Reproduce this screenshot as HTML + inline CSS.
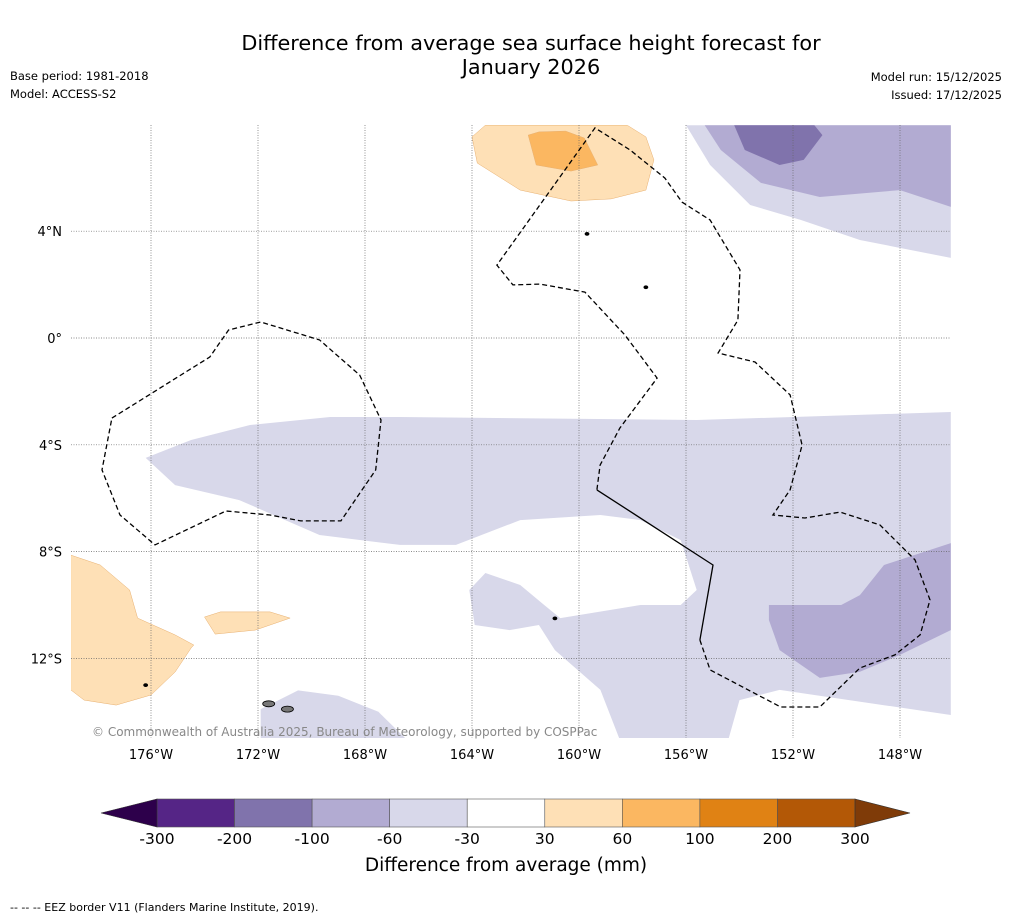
<!DOCTYPE html>
<html><head><meta charset="utf-8">
<style>
body{margin:0;background:#fff;font-family:"DejaVu Sans","Liberation Sans",sans-serif;}
svg{display:block}
</style></head>
<body>
<svg id="chart" width="1011" height="919" viewBox="0 0 1011 919">
<text x="531" y="50" text-anchor="middle" font-size="20.8">Difference from average sea surface height forecast for</text>
<text x="531" y="74" text-anchor="middle" font-size="20.8">January 2026</text>
<text x="10" y="80" font-size="11.5">Base period: 1981-2018</text>
<text x="10" y="98" font-size="11.5">Model: ACCESS-S2</text>
<text x="1002" y="81" font-size="11.5" text-anchor="end">Model run: 15/12/2025</text>
<text x="1002" y="99" font-size="11.5" text-anchor="end">Issued: 17/12/2025</text>
<g id="map"></g>
<g id="cbar"></g>
<text x="10" y="911" font-size="11">--  --  -- EEZ border V11 (Flanders Marine Institute, 2019).</text>
</svg>
<script>
const lonTicks=[-176,-172,-168,-164,-160,-156,-152,-148];
const latTicks=[4,0,-4,-8,-12];
const latLabels=["4°N","0°","4°S","8°S","12°S"];
const levels=[-300,-200,-100,-60,-30,30,60,100,200,300];
const levelColors=["#552586","#8073ac","#b2abd2","#d8d8ea","#ffffff","#fee0b6","#fbb761","#e08214","#b35806"];
const underColor="#2d004b", overColor="#7f3b08";
const contours=[
 [3,[[-176.2,-4.49],[-175.1,-5.51],[-172.7,-6.07],[-169.7,-7.38],[-166.7,-7.75],[-164.6,-7.75],[-162.2,-6.82],[-159.2,-6.63],[-157.7,-6.82],[-156.2,-7.57],[-155.6,-9.44],[-156.2,-10.0],[-157.7,-10.0],[-160.7,-10.49],[-161.3,-10.0],[-162.2,-9.25],[-163.5,-8.80],[-164.1,-9.44],[-163.9,-10.75],[-162.6,-10.94],[-161.5,-10.75],[-160.9,-11.69],[-159.2,-13.18],[-158.5,-14.98],[-154.4,-14.98],[-154.0,-13.56],[-152.5,-13.18],[-149.9,-13.56],[-146.1,-14.12],[-146.1,-2.77],[-155.6,-3.07],[-166.7,-2.96],[-169.3,-2.96],[-172.3,-3.26],[-174.5,-3.82]]],
 [3,[[-171.9,-13.9],[-170.5,-13.2],[-169.0,-13.4],[-167.5,-14.0],[-166.5,-14.98],[-171.9,-14.98]]],
 [2,[[-152.9,-10.0],[-151.7,-10.0],[-150.2,-10.0],[-149.5,-9.63],[-148.6,-8.5],[-146.1,-7.68],[-146.1,-10.94],[-148.0,-11.87],[-149.5,-12.5],[-151.0,-12.73],[-152.5,-11.69],[-152.9,-10.56]]],
 [3,[[-156.0,7.97],[-155.1,6.48],[-153.6,4.98],[-151.7,4.42],[-149.5,3.67],[-146.1,3.0],[-146.1,7.97]]],
 [2,[[-155.3,7.97],[-154.7,7.04],[-153.2,5.81],[-151.0,5.28],[-148.0,5.54],[-146.1,4.91],[-146.1,7.97]]],
 [1,[[-154.2,7.97],[-153.8,7.04],[-152.5,6.48],[-151.6,6.67],[-150.9,7.6],[-151.2,7.97]]],
 [5,[[-163.5,7.97],[-164.0,7.53],[-163.8,6.55],[-162.2,5.54],[-160.3,5.13],[-158.8,5.21],[-157.5,5.54],[-157.2,6.67],[-157.5,7.53],[-158.2,7.97]]],
 [6,[[-161.9,7.6],[-161.6,6.48],[-160.3,6.25],[-159.3,6.48],[-159.8,7.49],[-160.5,7.75],[-161.5,7.72]]],
 [5,[[-179.0,-8.13],[-177.9,-8.5],[-176.8,-9.44],[-176.5,-10.49],[-175.1,-11.12],[-174.4,-11.5],[-174.5,-11.61],[-175.1,-12.51],[-176.0,-13.37],[-177.3,-13.75],[-178.5,-13.56],[-179.0,-13.18]]],
 [5,[[-174.0,-10.45],[-173.6,-11.09],[-172.1,-10.94],[-170.8,-10.49],[-171.55,-10.26],[-173.4,-10.26]]]
];
const eezLeft=[[-177.46,-3.0],[-173.8,-0.71],[-173.1,0.30],[-171.9,0.60],[-169.7,-0.07],[-168.2,-1.39],[-167.4,-3.07],[-167.6,-4.94],[-168.9,-6.85],[-170.4,-6.85],[-171.55,-6.63],[-173.2,-6.48],[-175.85,-7.75],[-177.16,-6.63],[-177.83,-4.94],[-177.46,-3.0]];
const eezMid=[[-155.48,-11.31],[-155.10,-12.43],[-152.46,-13.82],[-151.0,-13.82],[-149.50,-12.36],[-148.19,-11.87],[-147.25,-11.12],[-146.88,-9.81],[-147.44,-8.31],[-148.75,-7.0],[-150.24,-6.52],[-151.55,-6.74],[-152.75,-6.63],[-152.11,-5.69],[-151.66,-4.01],[-152.11,-2.13],[-153.42,-0.90],[-154.80,-0.56],[-154.06,0.67],[-153.98,2.55],[-155.10,4.42],[-156.15,5.09],[-156.79,5.99],[-158.09,7.04],[-159.40,7.87],[-163.07,2.73],[-162.47,1.99],[-161.46,2.02],[-159.78,1.72],[-158.28,0.11],[-157.08,-1.50],[-158.47,-3.37],[-159.21,-4.76],[-159.33,-5.69]];
const eezSolid=[[-159.33,-5.69],[-154.99,-8.50],[-155.48,-11.31]];
const islands=[[-171.6,-13.7,"#777"],[-170.9,-13.9,"#777"],[-176.2,-13.0,"#000"],[-157.5,1.9,"#000"],[-159.7,3.9,"#000"],[-160.9,-10.5,"#000"]];

const NS="http://www.w3.org/2000/svg";
const X0=71,X1=951,Y0=125,Y1=738;
const xs=lon=>151+(lon+176)*26.75;
const ys=lat=>338-lat*26.7;
function mk(tag,attrs,parent){const e=document.createElementNS(NS,tag);for(const k in attrs)e.setAttribute(k,attrs[k]);parent.appendChild(e);return e;}
const map=document.getElementById('map');
const defs=mk('defs',{},map);
const cp=mk('clipPath',{id:'clip'},defs);
mk('rect',{x:X0,y:Y0,width:X1-X0,height:Y1-Y0},cp);
const g=mk('g',{'clip-path':'url(#clip)'},map);
const pts=p=>p.map(q=>xs(q[0]).toFixed(1)+','+ys(q[1]).toFixed(1)).join(' ');
contours.forEach(c=>{
  const e=mk('polygon',{points:pts(c[1]),fill:levelColors[c[0]],stroke:c[0]>=5?'#e8b070':'none','stroke-width':0.5},g);
  
  
});
islands.forEach(i=>{
  const e=mk('ellipse',{cx:xs(i[0]),cy:ys(i[1]),rx:i[2]=="#777"?6:2,ry:i[2]=="#777"?3:1.5,fill:i[2],stroke:'#000','stroke-width':0.8},g);
  
  
});
lonTicks.forEach(l=>{
  const e=mk('line',{x1:xs(l),x2:xs(l),y1:Y0,y2:Y1,stroke:'#666','stroke-width':0.7,'stroke-dasharray':'1,1.5'},g);
  
  
  const t=mk('text',{x:xs(l),y:759,'text-anchor':'middle','font-size':13},map);
  t.textContent=Math.abs(l)+'°W';
  
  
});
latTicks.forEach((l,i)=>{
  const e=mk('line',{x1:X0,x2:X1,y1:ys(l),y2:ys(l),stroke:'#666','stroke-width':0.7,'stroke-dasharray':'1,1.5'},g);
  
  
  const t=mk('text',{x:62,y:ys(l)+5,'text-anchor':'end','font-size':13},map);
  t.textContent=latLabels[i];
  
  
});
[eezLeft,eezMid].forEach(p=>{
  const e=mk('polyline',{points:pts(p),fill:'none',stroke:'#000','stroke-width':1.3,'stroke-dasharray':'5,3'},g);
  
  
});
const sl=mk('polyline',{points:pts(eezSolid),fill:'none',stroke:'#000','stroke-width':1.3},g);


const cr=mk('text',{x:92,y:736,'font-size':12,fill:'#888'},map);
cr.textContent='© Commonwealth of Australia 2025, Bureau of Meteorology, supported by COSPPac';



const cb=document.getElementById('cbar');
const CX0=157,CX1=855,CY0=799,CY1=827;
const cx=i=>CX0+(CX1-CX0)*i/(levels.length-1);
levelColors.forEach((c,i)=>{
  const e=mk('rect',{x:cx(i),y:CY0,width:cx(i+1)-cx(i),height:CY1-CY0,fill:c,stroke:'#555','stroke-width':0.6},cb);
  
  
});
const u=mk('polygon',{points:`${CX0},${CY0} ${CX0},${CY1} 101,${(CY0+CY1)/2}`,fill:underColor,stroke:'#333','stroke-width':0.6},cb);


const o=mk('polygon',{points:`${CX1},${CY0} ${CX1},${CY1} 910,${(CY0+CY1)/2}`,fill:overColor,stroke:'#333','stroke-width':0.6},cb);


levels.forEach((v,i)=>{
  const t=mk('text',{x:cx(i),y:844,'text-anchor':'middle','font-size':15.5},cb);
  t.textContent=v;
  
  
});
const ct=mk('text',{x:506,y:871,'text-anchor':'middle','font-size':18.5},cb);
ct.textContent='Difference from average (mm)';


</script>
</body></html>
